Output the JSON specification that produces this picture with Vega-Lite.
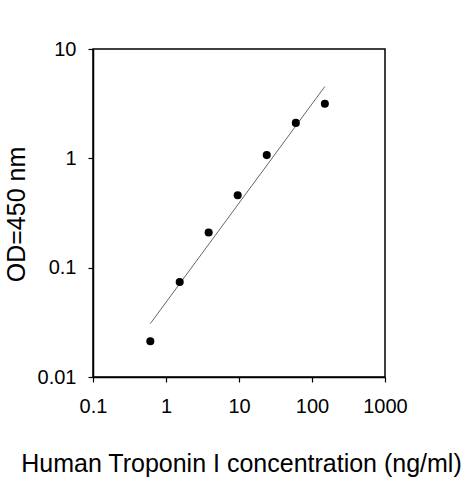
{
  "$schema": "https://vega.github.io/schema/vega-lite/v6.json",
  "width": 292,
  "height": 328,
  "autosize": "none",
  "padding": {"left": 93, "top": 49, "right": 78, "bottom": 103},
  "background": "white",
  "config": {
    "view": {"stroke": "black", "strokeWidth": 1.5},
    "font": "Liberation Sans",
    "axis": {
      "grid": false,
      "labelFlush": false,
      "labelOverlap": false,
      "domainColor": "black",
      "domainWidth": 1.5,
      "tickColor": "black",
      "tickWidth": 1.2,
      "tickSize": 5,
      "labelFont": "Liberation Sans",
      "labelFontSize": 20,
      "labelColor": "black",
      "titleFont": "Liberation Sans",
      "titleFontSize": 25,
      "titleFontWeight": "normal",
      "titleColor": "black"
    }
  },
  "datasets": {
    "points": [
      {"conc": 0.61, "od": 0.0212},
      {"conc": 1.54, "od": 0.074},
      {"conc": 3.84, "od": 0.21},
      {"conc": 9.6, "od": 0.46},
      {"conc": 24, "od": 1.07},
      {"conc": 60, "od": 2.11},
      {"conc": 150, "od": 3.16}
    ],
    "fit": [
      {"conc": 0.61, "od": 0.0308},
      {"conc": 150, "od": 4.54}
    ]
  },
  "layer": [
    {
      "data": {"name": "fit"},
      "mark": {"type": "line", "color": "#666666", "strokeWidth": 1},
      "encoding": {
        "x": {"field": "conc", "type": "quantitative"},
        "y": {"field": "od", "type": "quantitative"}
      }
    },
    {
      "data": {"name": "points"},
      "mark": {"type": "point", "filled": true, "color": "black", "opacity": 1, "size": 65},
      "encoding": {
        "x": {
          "field": "conc",
          "type": "quantitative",
          "scale": {"type": "log", "domain": [0.1, 1000], "nice": false},
          "axis": {
            "values": [0.1, 1, 10, 100, 1000],
            "format": "~g",
            "labelPadding": 14,
            "title": "Human Troponin I concentration (ng/ml)",
            "titleX": 148,
            "titleY": 74,
            "titleBaseline": "top"
          }
        },
        "y": {
          "field": "od",
          "type": "quantitative",
          "scale": {"type": "log", "domain": [0.01, 10], "nice": false},
          "axis": {
            "values": [0.01, 0.1, 1, 10],
            "format": "~g",
            "labelPadding": 12,
            "title": "OD=450 nm",
            "titleX": -89,
            "titleY": 165,
            "titleBaseline": "top",
            "titleAngle": -90
          }
        }
      }
    }
  ]
}
